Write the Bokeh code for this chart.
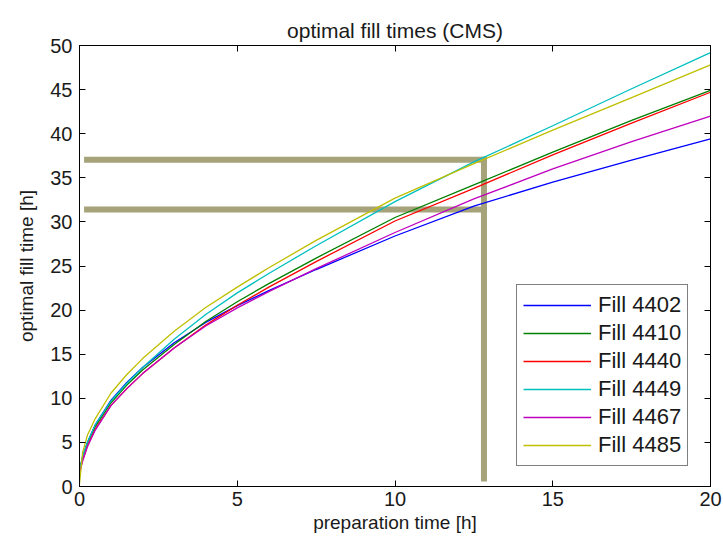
from bokeh.plotting import figure
from bokeh.models import Range1d, LinearAxis, Legend, LegendItem, FixedTicker
from bokeh.embed import file_html
from bokeh.resources import INLINE

# ---- data ----
prep_time = [0, 0.1, 0.25, 0.5, 1, 1.5, 2, 3, 4, 5, 6, 7.5, 10, 12.5, 15, 17.5, 20]
fill_4402 = [1.8, 3.4, 5.0, 7.0, 9.8, 11.8, 13.5, 16.3, 18.6, 20.5, 22.2, 24.6, 28.4, 31.8, 34.5, 37.0, 39.4]
fill_4410 = [1.8, 3.3, 4.9, 6.8, 9.5, 11.5, 13.2, 16.1, 18.7, 20.95, 23.0, 25.9, 30.5, 34.2, 37.9, 41.5, 44.9]
fill_4440 = [1.6, 3.0, 4.6, 6.5, 9.2, 11.1, 12.8, 15.7, 18.3, 20.55, 22.6, 25.5, 30.1, 33.8, 37.6, 41.2, 44.7]
fill_4449 = [1.8, 3.4, 5.0, 7.0, 9.7, 11.7, 13.5, 16.7, 19.5, 21.95, 24.15, 27.3, 32.3, 36.8, 40.9, 45.1, 49.2]
fill_4467 = [1.5, 2.9, 4.5, 6.4, 9.2, 11.1, 12.8, 15.7, 18.2, 20.25, 22.1, 24.7, 28.8, 32.6, 36.0, 39.1, 42.0]
fill_4485 = [0.3, 3.9, 5.8, 7.7, 10.6, 12.7, 14.5, 17.6, 20.3, 22.6, 24.8, 27.9, 32.7, 36.6, 40.4, 44.1, 47.8]

series_names = ["Fill 4402", "Fill 4410", "Fill 4440", "Fill 4449", "Fill 4467", "Fill 4485"]
series_values = [fill_4402, fill_4410, fill_4440, fill_4449, fill_4467, fill_4485]
series_colors = ["#0000ff", "#008000", "#ff0000", "#00bfbf", "#bf00bf", "#bfbf00"]

x_ticks = [0, 5, 10, 15, 20]
y_ticks = [0, 5, 10, 15, 20, 25, 30, 35, 40, 45, 50]

prep_time_opt = 12.82          # chosen preparation time [h]
fill_time_opt = [37.05, 31.4]  # corresponding optimal fill times [h]
marker_x_start = 0.24
marker_y_start = 0.9

FONT = "Liberation Sans"

p = figure(width=723, height=545, x_range=Range1d(0, 20), y_range=Range1d(0, 50),
           output_backend="svg", toolbar_location=None,
           min_border_left=79, min_border_right=13, min_border_top=45, min_border_bottom=59,
           title="optimal fill times (CMS)")
p.background_fill_color = "white"
p.border_fill_color = "white"
p.outline_line_color = "black"
p.outline_line_width = 1
p.xgrid.visible = False
p.ygrid.visible = False

p.title.align = "center"
p.title.text_font = FONT
p.title.text_font_size = "21px"
p.title.text_font_style = "normal"
p.title.text_color = "#1a1a1a"
p.title.standoff = 8

def style_axis(ax, ticks, labels=True):
    ax.ticker = FixedTicker(ticks=ticks)
    ax.minor_tick_line_color = None
    ax.major_tick_in = 6
    ax.major_tick_out = 0
    ax.axis_line_color = "black"
    ax.major_tick_line_color = "black"
    ax.major_label_text_font = FONT
    ax.major_label_text_font_size = "20px"
    ax.major_label_text_color = "#1a1a1a"
    ax.axis_label_text_font = FONT
    ax.axis_label_text_font_size = "19px"
    ax.axis_label_text_font_style = "normal"
    ax.axis_label_text_color = "#1a1a1a"
    if not labels:
        ax.major_label_overrides = {t: "" for t in ticks}
        ax.major_label_standoff = 0

style_axis(p.xaxis[0], x_ticks)
style_axis(p.yaxis[0], y_ticks)
p.xaxis.axis_label = "preparation time [h]"
p.yaxis.axis_label = "optimal fill time [h]"
p.xaxis.major_label_standoff = 5
p.yaxis.major_label_standoff = 7
p.xaxis.axis_label_standoff = 3
p.yaxis.axis_label_standoff = 10

top_ax = LinearAxis()
style_axis(top_ax, x_ticks, labels=False)
p.add_layout(top_ax, "above")
right_ax = LinearAxis()
style_axis(right_ax, y_ticks, labels=False)
p.add_layout(right_ax, "right")

# guide lines
for fy in fill_time_opt:
    p.segment(x0=[marker_x_start], y0=[fy], x1=[prep_time_opt], y1=[fy],
              line_color="#a6a27a", line_width=6, line_cap="square")
p.segment(x0=[prep_time_opt], y0=[marker_y_start], x1=[prep_time_opt], y1=[max(fill_time_opt)],
          line_color="#a6a27a", line_width=6, line_cap="square")

items = []
for name, vals, col in zip(series_names, series_values, series_colors):
    r = p.line(prep_time, vals, line_color=col, line_width=1.3)
    items.append(LegendItem(label=name, renderers=[r]))

legend = Legend(items=items, location=(437, 20), margin=0, padding=6,
                spacing=0, glyph_width=68, glyph_height=28, label_height=28,
                label_standoff=7, label_text_font=FONT, label_text_font_size="22px",
                label_text_color="#1a1a1a", border_line_color="black",
                border_line_width=1, background_fill_color="white", background_fill_alpha=1)
p.add_layout(legend)

open("out.html", "w").write(file_html(p, INLINE))
